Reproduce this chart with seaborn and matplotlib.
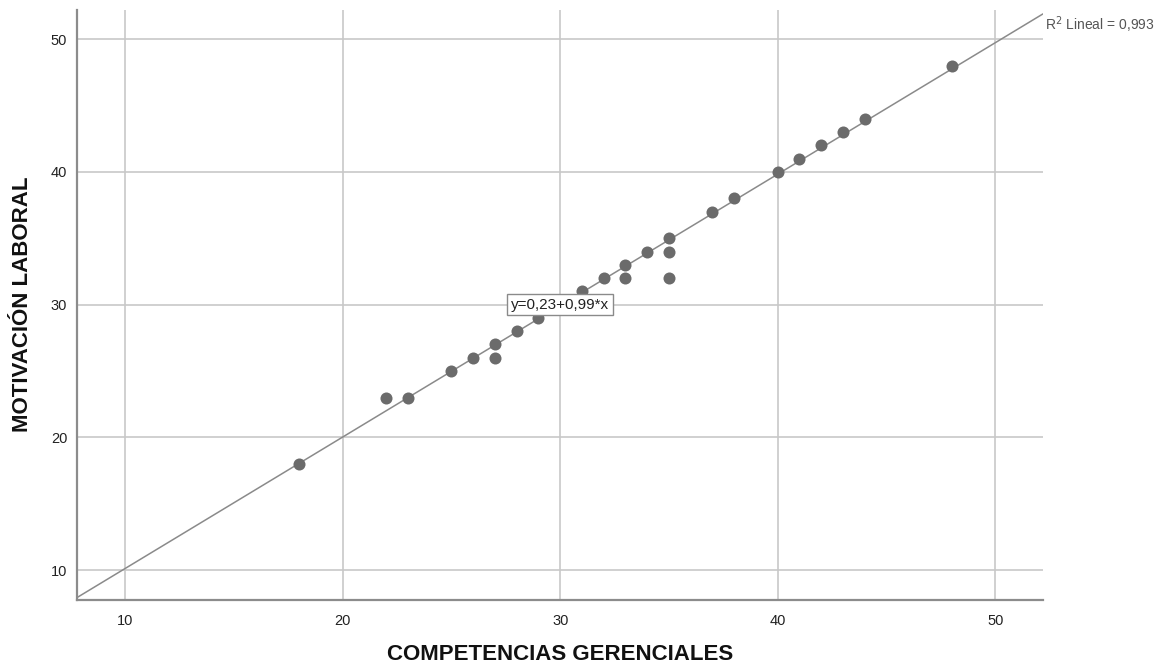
import numpy as np
import pandas as pd
import matplotlib
matplotlib.use("Agg")
import matplotlib.pyplot as plt
import seaborn as sns

competencias = [18, 22, 23, 25, 26, 27, 27, 28, 29, 30, 31, 32, 33, 33, 34, 35, 35, 35, 37, 38, 40, 41, 42, 43, 44, 48]
motivacion   = [18, 23, 23, 25, 26, 27, 26, 28, 29, 30, 31, 32, 33, 32, 34, 35, 34, 32, 37, 38, 40, 41, 42, 43, 44, 48]
x_ticks = [10, 20, 30, 40, 50]
y_ticks = [10, 20, 30, 40, 50]
intercept = 0.23
slope = 0.99
eq_label = "y=0,23+0,99*x"
r2_label = "R$^2$ Lineal = 0,993"

df = pd.DataFrame({"COMPETENCIAS GERENCIALES": competencias,
                   "MOTIVACIÓN LABORAL": motivacion})

sns.set_theme(style="white")
plt.rcParams['font.family'] = ['Liberation Sans', 'DejaVu Sans']

fig = plt.figure(figsize=(11.67, 6.66), dpi=100)
ax = fig.add_axes([77/1167, 1-600/666, (1043-77)/1167, (600-10)/666])

xlim = (7.78, 52.2)
ylim = (7.75, 52.2)
ax.set_xlim(*xlim)
ax.set_ylim(*ylim)

ax.grid(True, color="#c8c8c8", linewidth=1.2, zorder=0)
ax.set_xticks(x_ticks)
ax.set_yticks(y_ticks)

# fit line
ax.axline((0, intercept), slope=slope, color="#8a8a8a", linewidth=1.1, zorder=2)

sns.scatterplot(data=df, x="COMPETENCIAS GERENCIALES", y="MOTIVACIÓN LABORAL",
                ax=ax, color="#6b6b6b", s=75, edgecolor="#6b6b6b", linewidth=0, zorder=3)

ax.set_xlim(*xlim)
ax.set_ylim(*ylim)

for side in ["top", "right"]:
    ax.spines[side].set_visible(False)
for side in ["left", "bottom"]:
    ax.spines[side].set_color("#8c8c8c")
    ax.spines[side].set_linewidth(1.6)

ax.tick_params(axis="both", length=0, labelsize=10.5, labelcolor="#222222")
ax.tick_params(axis="x", pad=10)
ax.tick_params(axis="y", pad=7)

ax.set_xlabel("COMPETENCIAS GERENCIALES", fontsize=16, fontweight="bold", color="#111111")
ax.set_ylabel("MOTIVACIÓN LABORAL", fontsize=16, fontweight="bold", color="#111111")
ax.xaxis.set_label_coords(0.5, -0.093)
ax.yaxis.set_label_coords(-0.056, 0.502)
ax.xaxis.label.set_verticalalignment("center")
ax.yaxis.label.set_verticalalignment("center")

ax.text(30, 30, eq_label, fontsize=11, color="#222222", ha="center", va="center", zorder=5,
        bbox=dict(boxstyle="square,pad=0.25", facecolor="white", edgecolor="#8a8a8a", linewidth=1))

ax.text(1.002, 0.975, r2_label, transform=ax.transAxes,
        fontsize=10, color="#555555", ha="left", va="center", clip_on=False)

fig.savefig("out.png", dpi=100)
